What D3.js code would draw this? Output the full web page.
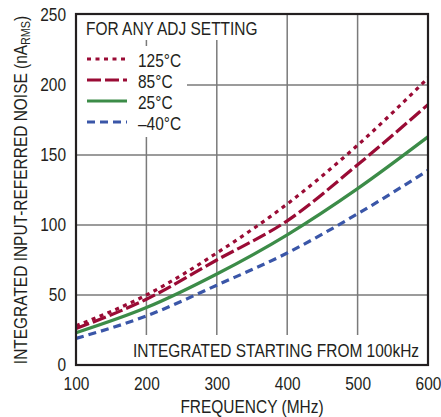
<!DOCTYPE html>
<html><head><meta charset="utf-8">
<script src="https://cdn.jsdelivr.net/npm/d3@7"></script>
<style>body{margin:0;background:#fff}svg{display:block}text{font-family:"Liberation Sans",Arial,sans-serif;fill:#231f20}</style>
</head><body><svg id="c" width="441" height="417"></svg>
<script>
const freqs = [100, 200, 300, 400, 500, 600];
const noise125 = [28, 50, 80, 115, 157, 205];
const noise85 = [26, 47, 75, 103, 143, 186];
const noise25 = [23, 41, 65, 93, 126, 163];
const noiseM40 = [19, 35, 57, 80, 108, 139];
const seriesNames = ["125°C", "85°C", "25°C", "–40°C"];
const xTicks = [100, 200, 300, 400, 500, 600];
const yTicks = [0, 50, 100, 150, 200, 250];

const series = [
  {name: seriesNames[0], vals: noise125, color: "#9a0b35", dash: "4,4.5"},
  {name: seriesNames[1], vals: noise85, color: "#9a0b35", dash: "14,4"},
  {name: seriesNames[2], vals: noise25, color: "#3c8c48", dash: null},
  {name: seriesNames[3], vals: noiseM40, color: "#3a56a8", dash: "8,5"}
];

const SX = 0.86, FS = 18;
const svg = d3.select("#c");
const L = 76, R = 428, T = 15, B = 365;
const x = d3.scaleLinear().domain([100, 600]).range([L, R]);
const y = d3.scaleLinear().domain([0, 250]).range([B, T]);

function label(px, py, str, anchor) {
  return svg.append("text")
    .attr("transform", `translate(${px},${py}) scale(${SX},1)`)
    .attr("text-anchor", anchor || "start")
    .attr("font-size", FS).text(str);
}

// grid
const g = svg.append("g");
g.selectAll(".vx").data(xTicks.slice(1, -1)).enter().append("line")
  .attr("x1", d => x(d)).attr("x2", d => x(d)).attr("y1", T).attr("y2", B)
  .attr("stroke", "#7a7a7a").attr("stroke-width", 1.5);
g.selectAll(".hy").data(yTicks.slice(1, -1)).enter().append("line")
  .attr("y1", d => y(d)).attr("y2", d => y(d)).attr("x1", L).attr("x2", R)
  .attr("stroke", "#7a7a7a").attr("stroke-width", 1.5);

// white boxes behind text
svg.append("rect").attr("x", L).attr("y", T).attr("width", 186).attr("height", 25).attr("fill", "#fff");
svg.append("rect").attr("x", L).attr("y", 46).attr("width", 111).attr("height", 91).attr("fill", "#fff");
svg.append("rect").attr("x", 128).attr("y", 335).attr("width", 296).attr("height", 30).attr("fill", "#fff");

// lines
const line = d3.line().x((d, i) => x(freqs[i])).y(d => y(d)).curve(d3.curveMonotoneX);
series.forEach(s => {
  svg.append("path").attr("d", line(s.vals)).attr("fill", "none")
    .attr("stroke", s.color).attr("stroke-width", 3.2)
    .attr("stroke-dasharray", s.dash);
});

// frame
svg.append("rect").attr("x", L).attr("y", T - 1).attr("width", R - L).attr("height", B - T + 1)
  .attr("fill", "none").attr("stroke", "#231f20").attr("stroke-width", 2.2);

// axes tick labels
const xa = svg.append("g").attr("transform", `translate(0,${B})`)
  .call(d3.axisBottom(x).tickValues(xTicks).tickSize(0).tickPadding(12).tickFormat(d3.format("d")));
xa.select(".domain").remove();
xa.selectAll("text").attr("font-size", FS).attr("transform", `scale(${SX},1)`)
  .style("font-family", '"Liberation Sans",Arial,sans-serif').attr("fill", "#231f20");
const ya = svg.append("g").attr("transform", `translate(${L},0)`)
  .call(d3.axisLeft(y).tickValues(yTicks).tickSize(0).tickPadding(10 / SX).tickFormat(d3.format("d")));
ya.select(".domain").remove();
ya.selectAll("text").attr("font-size", FS).attr("transform", `scale(${SX},1)`)
  .style("font-family", '"Liberation Sans",Arial,sans-serif').attr("fill", "#231f20");

// legend
label(86, 35, "FOR ANY ADJ SETTING");
const ly = [59, 80, 101, 122];
series.forEach((s, i) => {
  svg.append("line").attr("x1", 87).attr("x2", 127).attr("y1", ly[i]).attr("y2", ly[i])
    .attr("stroke", s.color).attr("stroke-width", 3.2).attr("stroke-dasharray", s.dash);
  label(138, ly[i] + 8, s.name);
});

label(133, 357, "INTEGRATED STARTING FROM 100kHz");
label(252, 413, "FREQUENCY (MHz)", "middle");

const yl = svg.append("text").attr("transform", `translate(27,190) rotate(-90) scale(${SX},1)`)
  .attr("text-anchor", "middle").attr("font-size", FS);
yl.append("tspan").text("INTEGRATED INPUT-REFERRED NOISE (nA");
yl.append("tspan").attr("font-size", 12.5).attr("dy", 3).text("RMS");
yl.append("tspan").attr("dy", -3).text(")");
</script></body></html>
